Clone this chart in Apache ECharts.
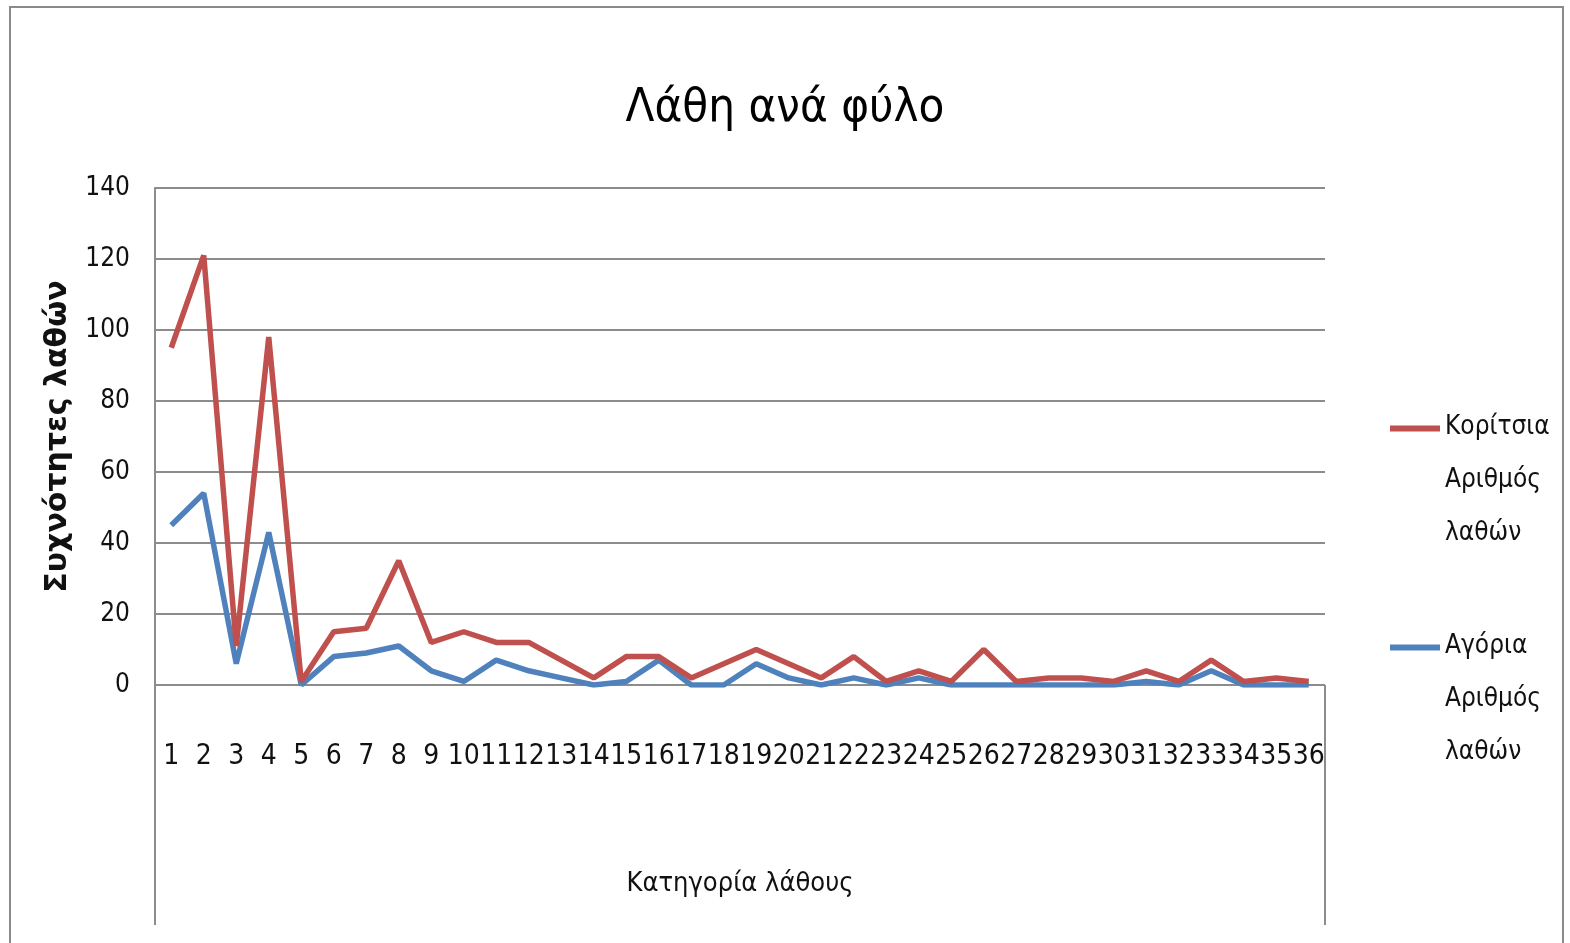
<!DOCTYPE html>
<html>
<head>
<meta charset="utf-8">
<script src="https://cdn.jsdelivr.net/npm/echarts@6/dist/echarts.min.js"></script>
<style>
  html, body { margin: 0; padding: 0; background: #ffffff; }
  #chart { width: 1570px; height: 943px; }
</style>
</head>
<body>
<div id="chart"></div>
<script>
// Error categories 1..36
const categories = Array.from({ length: 36 }, (_, i) => String(i + 1));

// Number of errors per category
const girls = [95, 121, 11, 98, 1, 15, 16, 35, 12, 15, 12, 12, 7, 2, 8, 8, 2, 6,
               10, 6, 2, 8, 1, 4, 1, 10, 1, 2, 2, 1, 4, 1, 7, 1, 2, 1];
const boys  = [45, 54, 6, 43, 0, 8, 9, 11, 4, 1, 7, 4, 2, 0, 1, 7, 0, 0,
               6, 2, 0, 2, 0, 2, 0, 0, 0, 0, 0, 0, 1, 0, 4, 0, 0, 0];

const seriesNames = ['Κορίτσια Αριθμός λαθών', 'Αγόρια Αριθμός λαθών'];
const yTicks = { min: 0, max: 140, interval: 20 };

const NARROW = '"Liberation Sans Narrow", "DejaVu Sans Condensed", sans-serif';
const RED = '#C0504D';
const BLUE = '#4F81BD';
const GRID_GRAY = '#8C8C8C';

const chart = echarts.init(document.getElementById('chart'), null, { renderer: 'canvas' });

// Line marker drawn at the top of a tall, otherwise empty icon box,
// so it sits beside the first line of a three-line legend label.
const LEGEND_MARK = 'path://M0,0H50V6H0Z M0,109.9H0.1V110H0Z';

const option = {
  backgroundColor: '#ffffff',
  animation: false,
  title: {
    text: 'Λάθη ανά φύλο',
    left: 'center',
    top: 80,
    textStyle: { fontFamily: NARROW, fontSize: 47, fontWeight: 'normal', color: '#000' }
  },
  legend: {
    data: seriesNames,
    left: 1390,
    top: 401,
    orient: 'vertical',
    padding: 0,
    itemWidth: 50,
    itemHeight: 110,
    itemGap: 60,
    icon: LEGEND_MARK,
    symbolKeepAspect: false,
    formatter: n => n.split(' ').join('\n'),
    textStyle: {
      fontFamily: NARROW,
      fontSize: 26,
      color: '#111',
      lineHeight: 53
    }
  },
  grid: { left: 155, right: 245, top: 188, bottom: 258, containLabel: false },
  xAxis: {
    type: 'category',
    data: categories,
    boundaryGap: true,
    name: 'Κατηγορία λάθους',
    nameLocation: 'middle',
    nameGap: 185,
    nameTextStyle: { fontFamily: NARROW, fontSize: 27, color: '#111' },
    axisLine: { show: false },
    axisTick: { show: false },
    axisLabel: {
      interval: 0,
      margin: 58,
      fontFamily: NARROW,
      fontSize: 28,
      color: '#111'
    }
  },
  yAxis: {
    type: 'value',
    min: yTicks.min,
    max: yTicks.max,
    interval: yTicks.interval,
    name: 'Συχνότητες λαθών',
    nameLocation: 'middle',
    nameRotate: 90,
    nameGap: 82,
    nameTextStyle: { fontFamily: '"DejaVu Sans", sans-serif', fontSize: 30, fontWeight: 'bold', color: '#111' },
    axisLine: { show: true, lineStyle: { color: GRID_GRAY, width: 2 } },
    axisTick: { show: false },
    axisLabel: { margin: 25, fontFamily: NARROW, fontSize: 26, color: '#111' },
    splitLine: { show: true, lineStyle: { color: GRID_GRAY, width: 2 } }
  },
  series: [
    {
      name: seriesNames[0],
      type: 'line',
      data: girls,
      z: 3,
      symbol: 'none',
      lineStyle: { color: RED, width: 5.5 },
      itemStyle: { color: RED }
    },
    {
      name: seriesNames[1],
      type: 'line',
      data: boys,
      z: 2,
      symbol: 'none',
      lineStyle: { color: BLUE, width: 5.5 },
      itemStyle: { color: BLUE }
    }
  ],
  graphic: [
    // outer chart frame
    { type: 'rect', shape: { x: 10, y: 7, width: 1553, height: 960 },
      style: { fill: 'none', stroke: '#8a8a8a', lineWidth: 2 }, z: 10 },
    // category label box below the plot
    { type: 'line', shape: { x1: 155, y1: 685, x2: 155, y2: 925 },
      style: { stroke: GRID_GRAY, lineWidth: 2 }, z: 10 },
    { type: 'line', shape: { x1: 1325, y1: 685, x2: 1325, y2: 925 },
      style: { stroke: GRID_GRAY, lineWidth: 2 }, z: 10 }
  ]
};

chart.setOption(option);
</script>
</body>
</html>
